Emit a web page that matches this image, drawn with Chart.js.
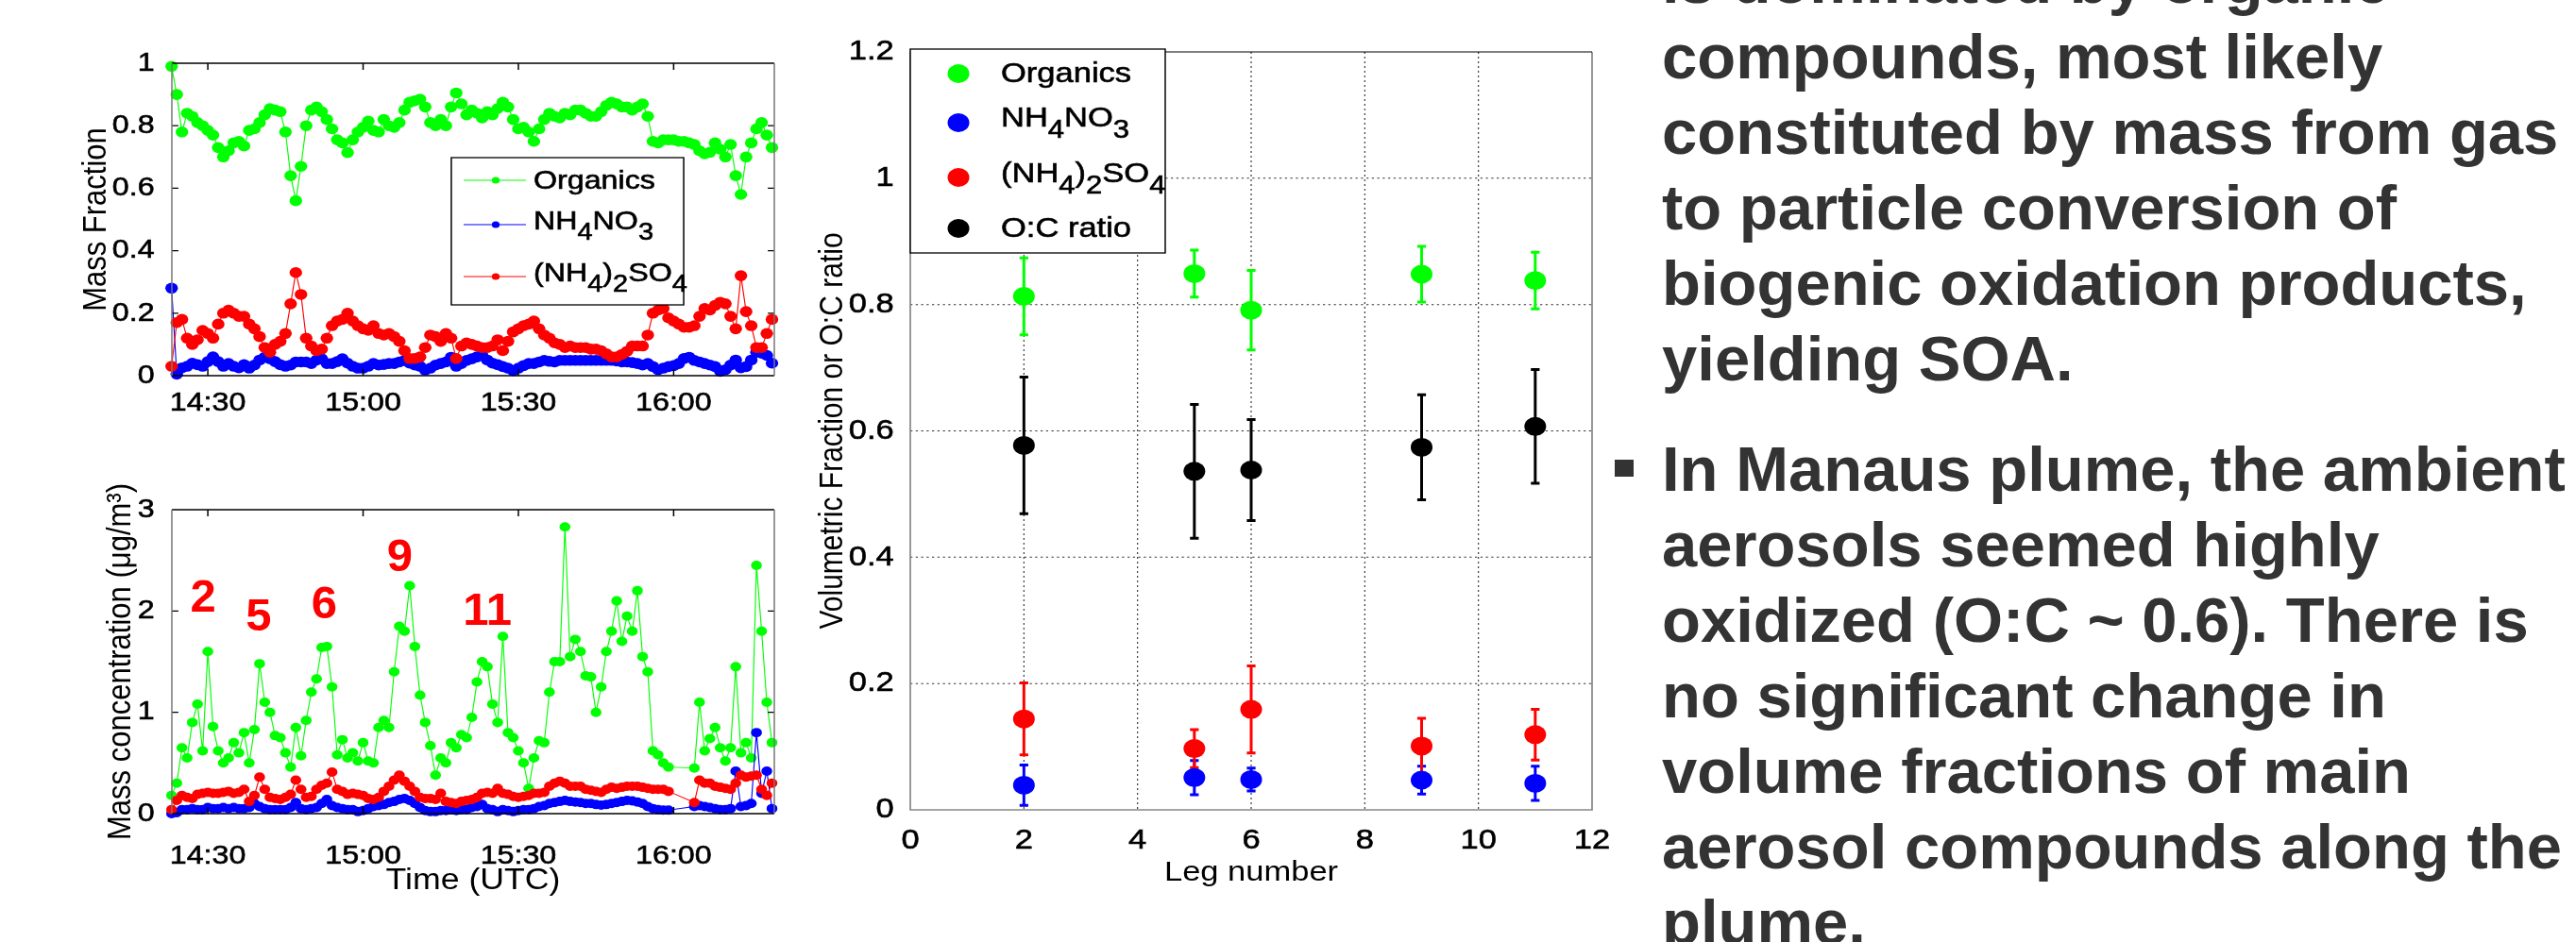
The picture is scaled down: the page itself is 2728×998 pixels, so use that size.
<!DOCTYPE html>
<html>
<head>
<meta charset="utf-8">
<script src="https://cdn.jsdelivr.net/npm/chart.js@4.4.1/dist/chart.umd.min.js"></script>
<style>
html, body { margin: 0; padding: 0; overflow: hidden; background: #fff; }
body { position: relative; width: 2728px; height: 998px; }
canvas { position: absolute; }
.para { position: absolute; left: 1760px; font: bold 67px/80px "Liberation Sans", Arial, sans-serif; color: #333; white-space: nowrap; }
.bullet { position: absolute; left: 1710px; top: 487px; width: 20px; height: 18px; background: #333; }
</style>
</head>
<body>
<canvas id="fracChart" width="840" height="470" style="left:0;top:0"></canvas>
<canvas id="concChart" width="840" height="528" style="left:0;top:470px"></canvas>
<canvas id="legChart" width="880" height="998" style="left:840px;top:0"></canvas>

<div class="para" style="top:-60px">is dominated by organic<br>compounds, most likely<br>constituted by mass from gas<br>to particle conversion of<br>biogenic oxidation products,<br>yielding SOA.</div>
<div class="bullet"></div>
<div class="para" style="top:457px">In Manaus plume, the ambient<br>aerosols seemed highly<br>oxidized (O:C ~ 0.6). There is<br>no significant change in<br>volume fractions of main<br>aerosol compounds along the<br>plume.</div>

<script>
// time in minutes after 14:00 UTC
const minutes = [23,24,25,26,27,28,29,30,31,32,33,34,35,36,37,38,39,40,41,42,
  43,44,45,46,47,48,49,50,51,52,53,54,55,56,57,58,59,60,61,62,
  63,64,65,66,67,68,69,70,71,72,73,74,75,76,77,78,79,80,81,82,
  83,84,85,86,87,88,89,90,91,92,93,94,95,96,97,98,99,100,101,102,
  103,104,105,106,107,108,109,110,111,112,113,114,115,116,117,118,119,120,121,122,
  123,124,125,126,127,128,129,130,131,132,133,134,135,136,137,138,139];
const timeTicks = [30, 60, 90, 120];
const timeLabels = ['14:30', '15:00', '15:30', '16:00'];
const seriesNames = ['Organics', 'NH4NO3', '(NH4)2SO4', 'O:C ratio'];

// mass fraction
const fracOrganics = [0.99,0.90,0.78,0.84,0.83,0.81,0.80,0.785,0.77,0.73,
  0.70,0.72,0.745,0.75,0.735,0.785,0.79,0.81,0.835,0.855,
  0.85,0.845,0.78,0.64,0.56,0.67,0.80,0.85,0.86,0.845,
  0.82,0.79,0.755,0.745,0.714,0.755,0.78,0.795,0.815,0.785,
  0.78,0.82,0.80,0.795,0.81,0.85,0.875,0.88,0.885,0.86,
  0.81,0.80,0.82,0.80,0.86,0.905,0.87,0.835,0.85,0.84,
  0.825,0.845,0.835,0.855,0.875,0.86,0.82,0.79,0.795,0.78,
  0.75,0.79,0.82,0.84,0.83,0.825,0.84,0.835,0.85,0.85,
  0.84,0.83,0.83,0.845,0.865,0.875,0.87,0.86,0.86,0.85,
  0.86,0.87,0.83,0.75,0.745,0.755,0.755,0.755,0.75,0.75,
  0.745,0.74,0.72,0.71,0.715,0.745,0.725,0.70,0.74,0.64,
  0.58,0.70,0.745,0.79,0.81,0.77,0.73];
const fracNitrate = [0.28,0.005,0.025,0.03,0.04,0.035,0.03,0.045,0.06,0.045,
  0.03,0.039,0.03,0.025,0.035,0.024,0.034,0.05,0.059,0.054,
  0.045,0.035,0.03,0.034,0.044,0.044,0.044,0.039,0.05,0.054,
  0.039,0.039,0.045,0.054,0.04,0.03,0.024,0.024,0.03,0.039,
  0.034,0.036,0.039,0.039,0.044,0.049,0.04,0.034,0.03,0.018,
  0.024,0.034,0.039,0.044,0.059,0.03,0.039,0.049,0.054,0.06,
  0.065,0.05,0.04,0.035,0.029,0.024,0.016,0.024,0.032,0.039,
  0.039,0.044,0.049,0.046,0.044,0.049,0.049,0.049,0.049,0.049,
  0.049,0.049,0.049,0.049,0.049,0.049,0.047,0.044,0.044,0.042,
  0.039,0.034,0.039,0.029,0.019,0.024,0.029,0.032,0.039,0.055,
  0.059,0.049,0.044,0.039,0.034,0.029,0.014,0.019,0.034,0.05,
  0.025,0.029,0.05,0.075,0.072,0.065,0.04];
const fracSulfate = [0.03,0.17,0.18,0.12,0.10,0.115,0.145,0.135,0.12,0.165,
  0.20,0.21,0.20,0.19,0.19,0.165,0.15,0.125,0.09,0.075,
  0.10,0.11,0.135,0.23,0.33,0.26,0.12,0.095,0.08,0.085,
  0.12,0.16,0.175,0.18,0.20,0.175,0.16,0.15,0.145,0.16,
  0.135,0.13,0.135,0.125,0.11,0.08,0.055,0.055,0.06,0.09,
  0.13,0.125,0.11,0.135,0.12,0.055,0.095,0.105,0.10,0.095,
  0.09,0.09,0.095,0.115,0.08,0.11,0.14,0.15,0.16,0.165,
  0.175,0.15,0.13,0.12,0.105,0.10,0.09,0.095,0.09,0.09,
  0.09,0.085,0.085,0.08,0.07,0.06,0.06,0.068,0.078,0.095,
  0.095,0.095,0.13,0.20,0.21,0.215,0.185,0.175,0.165,0.155,
  0.155,0.16,0.19,0.215,0.21,0.225,0.235,0.23,0.19,0.15,
  0.32,0.205,0.16,0.09,0.09,0.135,0.18];

// mass concentration (ug/m3), null = no data
const concOrganics = [0.18,0.3,0.65,0.55,0.9,1.08,0.62,1.6,0.86,0.62,
  0.5,0.55,0.7,0.6,0.8,0.5,0.83,1.48,1.1,1.0,
  0.77,0.75,0.6,0.46,0.85,0.57,0.92,1.2,1.33,1.64,
  1.65,1.25,0.58,0.73,0.55,0.6,0.52,0.7,0.52,0.5,
  0.85,0.92,0.85,1.4,1.85,1.8,2.25,1.65,1.17,0.9,
  0.67,0.38,0.55,0.5,0.7,0.65,0.78,0.75,0.95,1.3,
  1.5,1.45,1.08,0.9,1.75,0.8,0.75,0.62,0.5,0.25,
  0.55,0.72,0.7,1.2,1.5,1.5,2.83,1.55,1.72,1.6,
  1.36,1.35,1.0,1.25,1.6,1.8,2.1,1.7,1.95,1.8,
  2.2,1.55,1.4,0.62,0.58,0.5,0.46,null,null,null,
  null,0.45,1.1,0.62,0.74,0.85,0.65,0.52,0.65,1.45,
  0.6,0.7,0.55,2.45,1.8,1.1,0.7];
const concNitrate = [0.0,0.01,0.04,0.04,0.05,0.04,0.04,0.06,0.05,0.05,
  0.06,0.05,0.06,0.05,0.05,0.06,0.1,0.07,0.05,0.04,
  0.04,0.04,0.04,0.06,0.11,0.05,0.04,0.05,0.06,0.1,
  0.14,0.08,0.06,0.05,0.04,0.04,0.02,0.03,0.05,0.07,
  0.08,0.09,0.11,0.12,0.14,0.15,0.13,0.1,0.06,0.03,
  0.02,0.02,0.03,0.03,0.04,0.03,0.04,0.04,0.06,0.07,
  0.09,0.05,0.04,0.02,0.04,0.03,0.02,0.03,0.04,0.04,
  0.05,0.07,0.08,0.1,0.11,0.12,0.13,0.12,0.115,0.11,
  0.1,0.1,0.09,0.085,0.09,0.1,0.11,0.12,0.13,0.125,
  0.115,0.1,0.07,0.05,0.04,0.035,0.035,null,null,null,
  null,0.07,0.08,0.07,0.06,0.05,0.04,0.04,0.05,0.42,
  0.07,0.08,0.1,0.8,0.2,0.42,0.05];
const concSulfate = [0.04,0.13,0.18,0.16,0.15,0.19,0.2,0.21,0.2,0.2,
  0.21,0.22,0.2,0.21,0.24,0.12,0.18,0.36,0.24,0.16,
  0.15,0.14,0.16,0.19,0.33,0.24,0.16,0.17,0.24,0.28,
  0.3,0.41,0.24,0.22,0.19,0.2,0.19,0.18,0.15,0.14,
  0.16,0.22,0.27,0.33,0.38,0.32,0.27,0.22,0.16,0.15,
  0.15,0.14,0.2,0.12,0.11,0.1,0.12,0.13,0.14,0.16,
  0.2,0.21,0.2,0.25,0.2,0.19,0.17,0.16,0.17,0.18,
  0.2,0.2,0.21,0.27,0.3,0.32,0.3,0.27,0.27,0.27,
  0.24,0.23,0.22,0.21,0.24,0.26,0.25,0.26,0.27,0.27,
  0.27,0.26,0.25,0.24,0.24,0.24,0.22,null,null,null,
  null,0.11,0.33,0.3,0.3,0.27,0.26,0.25,0.24,0.3,
  0.38,0.36,0.37,0.38,0.24,0.18,0.3];

// leg labels written over the concentration panel
const legNames = ['2', '5', '6', '9', '11'];
const legNameTimes = [29.1, 39.8, 52.5, 67.1, 84.0];
const legNameHeights = [2.12, 1.93, 2.05, 2.52, 1.985];

// volumetric fractions per leg, with error bar half widths
const legs = [2, 5, 6, 9, 11];
const volOrganics = [0.813, 0.849, 0.791, 0.848, 0.838];
const errOrganics = [0.061, 0.037, 0.063, 0.044, 0.045];
const volNitrate = [0.039, 0.051, 0.048, 0.047, 0.042];
const errNitrate = [0.032, 0.027, 0.018, 0.022, 0.027];
const volSulfate = [0.144, 0.097, 0.159, 0.101, 0.119];
const errSulfate = [0.057, 0.030, 0.069, 0.044, 0.040];
const ocRatio = [0.577, 0.536, 0.538, 0.574, 0.607];
const errOcRatio = [0.108, 0.106, 0.080, 0.083, 0.090];

const fracTicks = [0, 0.2, 0.4, 0.6, 0.8, 1];
const concTicks = [0, 1, 2, 3];
const legTicks = [0, 2, 4, 6, 8, 10, 12];
const volTicks = [0, 0.2, 0.4, 0.6, 0.8, 1, 1.2];

const colors = ['#00ff00', '#0000ff', '#ff0000', '#000000'];
const FONT = '"Liberation Sans", Arial, sans-serif';
const SX = 1.15; // the matlab figures are stretched sideways on the slide

Chart.defaults.font.family = FONT;
Chart.defaults.color = '#000';

const stretch = {
  id: 'stretch',
  beforeDraw(chart) { chart.ctx.save(); chart.ctx.scale(SX, 1); },
  afterDraw(chart) { chart.ctx.restore(); }
};

// digits in the formulas drawn as subscripts
function chemText(ctx, text, x, y, size) {
  let cx = x;
  ctx.textAlign = 'left';
  ctx.textBaseline = 'middle';
  ctx.strokeStyle = ctx.fillStyle;
  ctx.lineWidth = 0.6;
  for (const ch of text) {
    const sub = /[0-9]/.test(ch);
    ctx.font = (sub ? size * 0.9 : size) + 'px ' + FONT;
    ctx.fillText(ch, cx, sub ? y + size * 0.42 : y);
    ctx.strokeText(ch, cx, sub ? y + size * 0.42 : y);
    cx += ctx.measureText(ch).width;
  }
}

const timeFrame = {
  id: 'timeFrame',
  afterDatasetsDraw(chart) {
    const {ctx, chartArea: a, scales: {x, y}} = chart;
    ctx.save();
    ctx.lineWidth = 1.3;
    ctx.strokeStyle = '#000';
    ctx.beginPath();
    ctx.moveTo(a.left, a.top); ctx.lineTo(a.right, a.top);
    ctx.moveTo(a.left, a.bottom); ctx.lineTo(a.right, a.bottom);
    timeTicks.forEach(t => {
      const px = x.getPixelForValue(t);
      ctx.moveTo(px, a.bottom); ctx.lineTo(px, a.bottom - 7);
      ctx.moveTo(px, a.top); ctx.lineTo(px, a.top + 7);
    });
    y.ticks.forEach(t => {
      const py = y.getPixelForValue(t.value);
      ctx.moveTo(a.left, py); ctx.lineTo(a.left + 6, py);
      ctx.moveTo(a.right, py); ctx.lineTo(a.right - 6, py);
    });
    ctx.stroke();
    ctx.strokeStyle = '#777';
    ctx.beginPath();
    ctx.moveTo(a.left, a.top); ctx.lineTo(a.left, a.bottom);
    ctx.moveTo(a.right, a.top); ctx.lineTo(a.right, a.bottom);
    ctx.stroke();
    ctx.restore();
  }
};

const fracLegend = {
  id: 'fracLegend',
  afterDraw(chart) {
    const ctx = chart.ctx;
    const rows = [191, 238, 293];
    ctx.save();
    ctx.fillStyle = '#fff';
    ctx.fillRect(415.6, 167, 214, 156);
    ctx.strokeStyle = '#000';
    ctx.lineWidth = 1.3;
    ctx.strokeRect(415.6, 167, 214, 156);
    rows.forEach((ry, i) => {
      ctx.strokeStyle = colors[i];
      ctx.lineWidth = 1;
      ctx.beginPath(); ctx.moveTo(427, ry); ctx.lineTo(484.3, ry); ctx.stroke();
      ctx.fillStyle = colors[i];
      ctx.beginPath(); ctx.arc(456.5, ry, 3.6, 0, Math.PI * 2); ctx.fill();
      ctx.fillStyle = '#000';
      chemText(ctx, seriesNames[i], 491.3, i === 0 ? ry + 1 : ry - 3, 28);
    });
    ctx.restore();
  }
};

const legMarks = {
  id: 'legMarks',
  afterDraw(chart) {
    const {ctx, scales: {x, y}} = chart;
    ctx.save();
    ctx.font = 'bold 49px ' + FONT;
    ctx.fillStyle = '#ff0000';
    ctx.textAlign = 'center';
    ctx.textBaseline = 'middle';
    legNames.forEach((t, i) => {
      ctx.fillText(t, x.getPixelForValue(legNameTimes[i]) * SX, y.getPixelForValue(legNameHeights[i]));
    });
    ctx.restore();
  }
};

function timeSeries(values, i, radius) {
  return {
    label: seriesNames[i],
    data: minutes.map((m, k) => ({x: m, y: values[k]})),
    borderColor: colors[i],
    backgroundColor: colors[i],
    pointBackgroundColor: colors[i],
    borderWidth: 1,
    pointRadius: radius,
    pointBorderWidth: 0,
    pointHoverRadius: radius,
    tension: 0,
    spanGaps: true,
    clip: 8,
    order: 3 - i
  };
}

const tickFont = size => ({font: {size: size}, textStrokeColor: '#000', textStrokeWidth: 0.6});

function timeAxis(height, padding, title) {
  return {
    type: 'linear', min: 23.05, max: 139.45,
    afterBuildTicks: s => { s.ticks = timeTicks.map(v => ({value: v})); },
    afterFit: s => { s.height = height; },
    grid: {display: false}, border: {display: false},
    ticks: Object.assign(tickFont(28), {padding: padding, maxRotation: 0, autoSkip: false,
      callback: v => timeLabels[timeTicks.indexOf(v)]}),
    title: title
  };
}

new Chart(document.getElementById('fracChart'), {
  type: 'line',
  data: {
    datasets: [
      timeSeries(fracOrganics, 0, 5.8),
      timeSeries(fracNitrate, 1, 5.8),
      timeSeries(fracSulfate, 2, 5.8)
    ]
  },
  options: {
    responsive: false, animation: false, devicePixelRatio: 1,
    layout: {padding: {left: 0, top: 67, right: 840 - 820 / SX, bottom: 0}},
    plugins: {legend: {display: false}, tooltip: {enabled: false}},
    scales: {
      x: timeAxis(470 - 398, 4, {display: false}),
      y: {
        min: 0, max: 1,
        afterBuildTicks: s => { s.ticks = fracTicks.map(v => ({value: v})); },
        afterFit: s => { s.width = 182 / SX; },
        grid: {display: false}, border: {display: false},
        ticks: Object.assign(tickFont(28), {padding: 8, callback: v => String(v)}),
        title: {display: true, text: 'Mass Fraction', font: {size: 31}, padding: {top: 70, bottom: 0}}
      }
    }
  },
  plugins: [timeFrame, fracLegend, stretch]
});

new Chart(document.getElementById('concChart'), {
  type: 'line',
  data: {
    datasets: [
      timeSeries(concOrganics, 0, 5),
      timeSeries(concNitrate, 1, 5),
      timeSeries(concSulfate, 2, 5)
    ]
  },
  options: {
    responsive: false, animation: false, devicePixelRatio: 1,
    layout: {padding: {left: 0, top: 70, right: 840 - 820 / SX, bottom: 0}},
    plugins: {legend: {display: false}, tooltip: {enabled: false}},
    scales: {
      x: timeAxis(528 - 392, 20, {display: true, text: 'Time (UTC)', font: {size: 31}, padding: {top: 0, bottom: 46}}),
      y: {
        min: 0, max: 3,
        afterBuildTicks: s => { s.ticks = concTicks.map(v => ({value: v})); },
        afterFit: s => { s.width = 182 / SX; },
        grid: {display: false}, border: {display: false},
        ticks: Object.assign(tickFont(28), {padding: 8, callback: v => String(v)}),
        title: {display: true, text: 'Mass concentration (\u03bcg/m\u00b3)', font: {size: 31}, padding: {top: 93, bottom: 0}}
      }
    }
  },
  plugins: [timeFrame, stretch, legMarks]
});

const legGrid = {
  id: 'legGrid',
  beforeDatasetsDraw(chart) {
    const {ctx, chartArea: a, scales: {x, y}} = chart;
    ctx.save();
    ctx.strokeStyle = '#333';
    ctx.lineWidth = 1;
    ctx.setLineDash([2, 3]);
    ctx.beginPath();
    legTicks.slice(1, -1).forEach(v => {
      const px = x.getPixelForValue(v);
      ctx.moveTo(px, a.top); ctx.lineTo(px, a.bottom);
    });
    volTicks.slice(1, -1).forEach(v => {
      const py = y.getPixelForValue(v);
      ctx.moveTo(a.left, py); ctx.lineTo(a.right, py);
    });
    ctx.stroke();
    ctx.setLineDash([]);
    ctx.strokeStyle = '#888';
    ctx.lineWidth = 1.5;
    ctx.beginPath();
    ctx.moveTo(a.left, a.top); ctx.lineTo(a.left, a.bottom); ctx.lineTo(a.right, a.bottom); ctx.lineTo(a.right, a.top);
    ctx.stroke();
    ctx.strokeStyle = '#000';
    ctx.lineWidth = 1.2;
    ctx.beginPath(); ctx.moveTo(a.left, a.top); ctx.lineTo(a.right, a.top); ctx.stroke();
    ctx.restore();
  }
};

const errorBars = {
  id: 'errorBars',
  beforeDatasetsDraw(chart) {
    const {ctx, scales: {x, y}} = chart;
    chart.data.datasets.forEach(ds => {
      ctx.save();
      ctx.strokeStyle = ds.backgroundColor;
      ds.data.forEach((p, i) => {
        const px = x.getPixelForValue(p.x);
        const lo = y.getPixelForValue(p.y - ds.err[i]);
        const hi = y.getPixelForValue(p.y + ds.err[i]);
        ctx.lineWidth = 2.6;
        ctx.beginPath(); ctx.moveTo(px, lo); ctx.lineTo(px, hi); ctx.stroke();
        ctx.lineWidth = 3;
        ctx.beginPath();
        ctx.moveTo(px - 4, lo); ctx.lineTo(px + 4, lo);
        ctx.moveTo(px - 4, hi); ctx.lineTo(px + 4, hi);
        ctx.stroke();
      });
      ctx.restore();
    });
  }
};

const volLegend = {
  id: 'volLegend',
  afterDraw(chart) {
    const ctx = chart.ctx;
    const rows = [78, 130, 188, 242];
    const textRows = [78.5, 126, 185, 242.5];
    ctx.save();
    ctx.fillStyle = '#fff';
    ctx.fillRect(107.8, 52, 234.8, 216);
    ctx.strokeStyle = '#000';
    ctx.lineWidth = 1.3;
    ctx.strokeRect(107.8, 52, 234.8, 216);
    rows.forEach((ry, i) => {
      ctx.fillStyle = colors[i];
      ctx.beginPath(); ctx.arc(152.2, ry, 10, 0, Math.PI * 2); ctx.fill();
      ctx.fillStyle = '#000';
      chemText(ctx, seriesNames[i], 191.3, textRows[i], 30);
    });
    ctx.restore();
  }
};

function legSeries(values, errs, i) {
  return {
    label: seriesNames[i],
    data: legs.map((l, k) => ({x: l, y: values[k]})),
    err: errs,
    showLine: false,
    backgroundColor: colors[i],
    borderColor: colors[i],
    pointBackgroundColor: colors[i],
    pointRadius: 10,
    pointBorderWidth: 0,
    pointHoverRadius: 10,
    order: 3 - i
  };
}

new Chart(document.getElementById('legChart'), {
  type: 'scatter',
  data: {
    datasets: [
      legSeries(volOrganics, errOrganics, 0),
      legSeries(volNitrate, errNitrate, 1),
      legSeries(volSulfate, errSulfate, 2),
      legSeries(ocRatio, errOcRatio, 3)
    ]
  },
  options: {
    responsive: false, animation: false, devicePixelRatio: 1,
    layout: {padding: {left: 0, top: 55, right: 880 - 846 / SX, bottom: 0}},
    plugins: {legend: {display: false}, tooltip: {enabled: false}},
    scales: {
      x: {
        type: 'linear', min: 0, max: 12,
        afterBuildTicks: s => { s.ticks = legTicks.map(v => ({value: v})); },
        afterFit: s => { s.height = 998 - 858; },
        grid: {display: false}, border: {display: false},
        ticks: Object.assign(tickFont(30), {padding: 7, maxRotation: 0, autoSkip: false, callback: v => String(v)}),
        title: {display: true, text: 'Leg number', font: {size: 30}, padding: {top: 0, bottom: 55}}
      },
      y: {
        min: 0, max: 1.2,
        afterBuildTicks: s => { s.ticks = volTicks.map(v => ({value: v})); },
        afterFit: s => { s.width = 124 / SX; },
        grid: {display: false}, border: {display: false},
        ticks: Object.assign(tickFont(30), {padding: 7, callback: v => String(v)}),
        title: {display: true, text: 'Volumetric Fraction or O:C ratio', font: {size: 30}, padding: {top: 19, bottom: 0}}
      }
    }
  },
  plugins: [legGrid, errorBars, volLegend, stretch]
});
</script>
</body>
</html>
